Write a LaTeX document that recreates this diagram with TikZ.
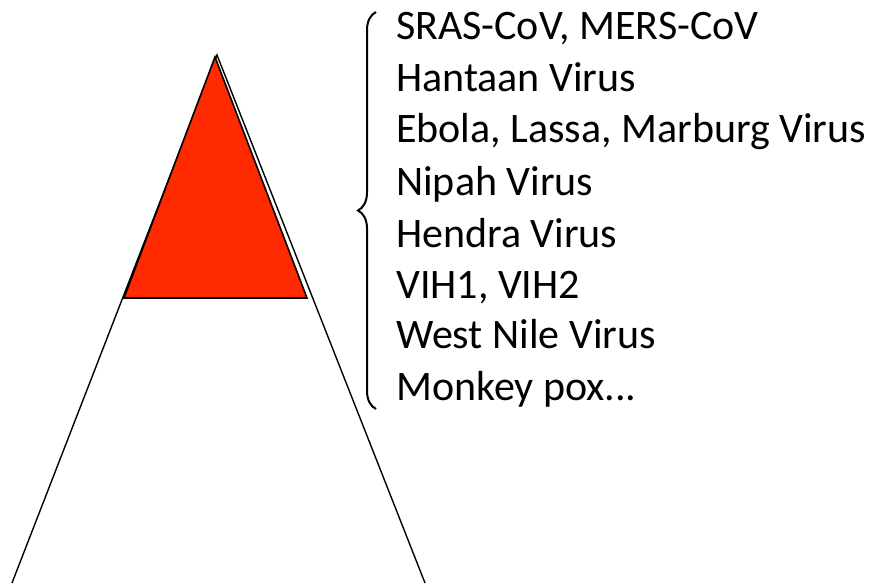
\documentclass[tikz,border=0pt]{standalone}
\usepackage{fontspec}
\setmainfont{Carlito}
\usetikzlibrary{decorations.pathreplacing}
\definecolor{virred}{HTML}{FF2A00}
\begin{document}
\begin{tikzpicture}[x=1pt,y=-1pt,
  item/.style={anchor=base west,inner sep=0pt,font=\fontsize{42}{46}\selectfont},
  outline/.style={line width=1.4pt},
]
\useasboundingbox (0,0) rectangle (877,583);
\coordinate (apex) at (217,55);
\coordinate (bl) at (12,583);
\coordinate (br) at (425,583);
\coordinate (ra) at (215,57);
\coordinate (rl) at (124,298);
\coordinate (rr) at (307,298);
\draw[outline] (bl) -- (apex) -- (br);
\filldraw[fill=virred,draw=black,line width=1.6pt,line join=miter] (rl) -- (ra) -- (rr) -- cycle;
\coordinate (bt) at (376,12);
\coordinate (bb) at (376,409);
\draw[line width=2pt,decorate,decoration={brace,amplitude=18pt,raise=0pt}] (bb) -- (bt);
\node[item] (t1) at (396,40) {SRAS-CoV, MERS-CoV};
\node[item] (t2) at (396,92) {Hantaan Virus};
\node[item] (t3) at (396,142) {Ebola, Lassa, Marburg Virus};
\node[item] (t4) at (396,195) {Nipah Virus};
\node[item] (t5) at (396,247) {Hendra Virus};
\node[item] (t6) at (396,298) {VIH1, VIH2};
\node[item] (t7) at (396,348) {West Nile Virus};
\node[item] (t8) at (396,400) {Monkey pox...};
\end{tikzpicture}
\end{document}
